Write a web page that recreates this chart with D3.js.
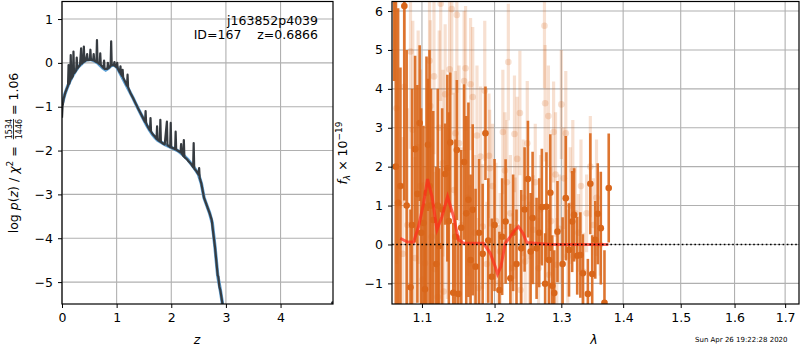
<!DOCTYPE html>
<html>
<head>
<meta charset="utf-8">
<script src="https://cdn.jsdelivr.net/npm/d3@7"></script>
<style>
  body { margin: 0; background: #fff; }
  svg { font-family: 'DejaVu Sans', sans-serif; }
</style>
</head>
<body>
<div id="chart"></div>
<script>
// p(z) panel data ---------------------------------------------------------------------------
const pzTicksX = [0, 1, 2, 3, 4];
const pzTicksY = [-5, -4, -3, -2, -1, 0, 1];
const pzZ = [0, 0.05, 0.1, 0.15, 0.2, 0.25, 0.3, 0.35, 0.4, 0.45, 0.5, 0.55, 0.6, 0.65, 0.7, 0.75,
  0.8, 0.85, 0.9, 0.95, 1.0, 1.05, 1.1, 1.15, 1.2, 1.25, 1.3, 1.35, 1.4, 1.45, 1.5, 1.55, 1.6, 1.65,
  1.7, 1.75, 1.8, 1.85, 1.9, 1.95, 2.0, 2.05, 2.1, 2.15, 2.2, 2.25, 2.3, 2.35, 2.4, 2.45, 2.5, 2.55,
  2.6, 2.65, 2.7, 2.75, 2.8, 2.85, 2.9, 2.95];
const pzSmooth = [-0.95, -0.72, -0.55, -0.40, -0.28, -0.18, -0.09, -0.03, 0.03, 0.07, 0.08, 0.07,
  0.04, 0.0, -0.06, -0.12, -0.16, -0.12, -0.06, -0.05, -0.09, -0.2, -0.32, -0.44, -0.56, -0.68, -0.8,
  -0.93, -1.06, -1.18, -1.30, -1.42, -1.53, -1.62, -1.70, -1.76, -1.80, -1.84, -1.87, -1.90, -1.93,
  -1.96, -1.99, -2.03, -2.08, -2.14, -2.2, -2.28, -2.36, -2.45, -2.55, -2.75, -3.08, -3.25, -3.42,
  -3.65, -4.2, -4.85, -5.2, -5.6];
const pzRaw = [[0.00, -1.25], [0.01, -1.0], [0.03, -0.82], [0.06, -0.68], [0.09, -0.58], [0.11, -0.52],
  [0.12, -0.05], [0.13, -0.48], [0.15, -0.40], [0.16, 0.18], [0.17, -0.36], [0.20, -0.30], [0.21, 0.26],
  [0.22, -0.24], [0.26, -0.17], [0.27, 0.12], [0.28, -0.13], [0.33, -0.05], [0.35, 0.33], [0.36, -0.02],
  [0.39, 0.02], [0.40, 0.37], [0.41, 0.03], [0.44, 0.06], [0.46, 0.2], [0.47, 0.06], [0.51, 0.07],
  [0.52, 0.30], [0.53, 0.07], [0.57, 0.06], [0.58, 0.2], [0.59, 0.05], [0.63, 0.02], [0.64, 0.52],
  [0.65, 0.01], [0.69, -0.03], [0.70, 0.22], [0.71, -0.05], [0.76, -0.12], [0.77, 0.05], [0.78, -0.14],
  [0.83, -0.14], [0.84, 0.0], [0.85, -0.12], [0.89, -0.07], [0.90, 0.49], [0.91, -0.05], [0.95, -0.05],
  [0.96, 0.02], [0.97, -0.07], [1.00, -0.10], [1.01, 0.0], [1.02, -0.13], [1.06, -0.22], [1.07, -0.08],
  [1.08, -0.26], [1.10, -0.30], [1.11, -0.16], [1.12, -0.34], [1.16, -0.44], [1.19, -0.52], [1.20, -0.27],
  [1.21, -0.56], [1.25, -0.68], [1.30, -0.8], [1.35, -0.93], [1.40, -1.06], [1.45, -1.18], [1.50, -1.30],
  [1.52, -1.35], [1.53, -1.10], [1.54, -1.38], [1.58, -1.48], [1.61, -1.54], [1.62, -1.26], [1.63, -1.57],
  [1.67, -1.64], [1.70, -1.68], [1.73, -1.73], [1.74, -1.45], [1.75, -1.75], [1.79, -1.79], [1.80, -1.30],
  [1.81, -1.80], [1.85, -1.84], [1.88, -1.86], [1.92, -1.34], [1.93, -1.88], [1.96, -1.90], [1.98, -1.92],
  [1.99, -1.37], [2.00, -1.93], [2.04, -1.95], [2.07, -1.97], [2.08, -1.57], [2.09, -1.98], [2.13, -2.01],
  [2.17, -2.04], [2.18, -1.85], [2.19, -2.06], [2.22, -2.12], [2.23, -1.76], [2.24, -2.15], [2.28, -2.19],
  [2.32, -2.25], [2.36, -2.30], [2.40, -2.38], [2.41, -1.83], [2.42, -2.41], [2.46, -2.47], [2.50, -2.55],
  [2.51, -2.40], [2.52, -2.62], [2.55, -2.75], [2.60, -3.08], [2.65, -3.25], [2.70, -3.42], [2.72, -3.5],
  [2.74, -3.58], [2.76, -3.8], [2.80, -4.2], [2.85, -4.85], [2.86, -4.87], [2.88, -5.1], [2.90, -5.2],
  [2.95, -5.6]];

// spectrum panel data -----------------------------------------------------------------------
const specTicksX = [1.1, 1.2, 1.3, 1.4, 1.5, 1.6, 1.7];
const specTicksY = [-1, 0, 1, 2, 3, 4, 5, 6];
const darkLam = [1.064, 1.069, 1.072, 1.077, 1.085, 1.091, 1.094, 1.097, 1.099, 1.102, 1.104, 1.106,
  1.108, 1.112, 1.115, 1.119, 1.123, 1.127, 1.131, 1.134, 1.138, 1.142, 1.147, 1.149, 1.153, 1.157,
  1.163, 1.169, 1.173, 1.178, 1.183, 1.187, 1.191, 1.196, 1.200, 1.207, 1.211, 1.216, 1.223, 1.227,
  1.232, 1.239, 1.244, 1.249, 1.253, 1.256, 1.262, 1.266, 1.270, 1.275, 1.277, 1.281, 1.283, 1.286,
  1.289, 1.294, 1.302, 1.307, 1.312, 1.317, 1.320, 1.325, 1.330, 1.334, 1.342, 1.346, 1.349, 1.354,
  1.358, 1.363, 1.369, 1.376,
  1.066, 1.080, 1.087, 1.110, 1.121, 1.136, 1.145, 1.160, 1.166];
const darkFlux = [7.2, 1.07, 1.5, 6.13, -1.1, 2.45, 1.3, 3.12, 0.3, 0.55, -1.15, 1.33, 2.56, 1.0, 0.63,
  -0.5, -0.04, 0.9, 1.81, 1.96, 2.62, -1.24, 2.43, -1.27, 0.43, 2.12, 1.15, 0.89, -0.57, 0.3, -0.24,
  2.86, 0.1, -0.83, 0.5, -1.17, 0.2, 0.59, -0.87, 0.3, -0.5, -0.1, 0.9, 1.68, -0.18, 0.68, -0.1, 0.3,
  0.96, -1.01, 0.97, -0.4, 1.33, -1.06, -1.25, 0.33, -0.5, 1.19, -0.14, 0.59, 0.76, -0.29, -0.27, -0.74,
  -1.27, 1.56, -0.76, 0.12, 0.79, 0.42, -1.5, 1.45,
  2.0, 1.0, 0.5, 1.5, 1.0, 0.6, 0.2, 0.8, -0.4];
const darkErr = [3.0, 5.0, 3.05, 5.0, 2.0, 2.4, 2.8, 2.0, 3.2, 2.5, 2.2, 3.5, 1.7, 3.0, 2.8, 2.5, 2.0,
  2.6, 1.3, 2.4, 1.8, 1.8, 1.8, 1.5, 2.0, 2.0, 2.5, 2.2, 2.0, 1.9, 1.8, 1.2, 1.6, 1.5, 1.7, 1.5, 1.5,
  1.6, 1.4, 1.5, 1.4, 1.5, 1.6, 1.5, 1.5, 1.7, 1.3, 1.4, 1.5, 1.3, 1.4, 1.3, 1.5, 1.3, 1.1, 1.3, 1.2,
  1.6, 1.2, 1.3, 1.2, 1.0, 1.1, 1.0, 0.9, 1.3, 1.0, 1.0, 1.3, 1.45, 1.35, 1.4,
  5.0, 4.0, 3.5, 3.5, 3.0, 2.8, 2.5, 2.5, 2.2];
const lightLam = [1.067, 1.075, 1.077, 1.085, 1.088, 1.091, 1.098, 1.104, 1.110, 1.111, 1.116, 1.117,
  1.121, 1.125, 1.128, 1.129, 1.131, 1.140, 1.143, 1.145, 1.147, 1.153, 1.157, 1.159, 1.165, 1.166,
  1.169, 1.177, 1.180, 1.183, 1.186, 1.192, 1.193, 1.208, 1.212, 1.215, 1.220, 1.223, 1.229, 1.230,
  1.237, 1.238, 1.245, 1.257, 1.265, 1.274, 1.275, 1.280, 1.281, 1.288, 1.293, 1.307, 1.314, 1.322,
  1.327, 1.335, 1.346, 1.356, 1.362,
  1.070, 1.081, 1.095, 1.101, 1.107, 1.113, 1.123, 1.134, 1.137, 1.150, 1.162, 1.172, 1.175, 1.189,
  1.197, 1.202, 1.205, 1.218, 1.226, 1.233, 1.242, 1.248, 1.251, 1.260, 1.268, 1.284, 1.291, 1.297,
  1.300, 1.304, 1.310, 1.318, 1.331, 1.340, 1.351];
const lightFlux = [3.5, -0.24, 4.05, 4.96, 2.95, -0.35, 1.5, -0.48, 4.72, 3.56, 4.32, -0.63, -1.35, 6.19,
  2.09, -1.21, 3.86, 6.05, 1.4, 2.86, 5.9, 0.5, 4.2, 4.53, -0.48, 4.12, 3.79, -1.12, 2.26, 0.46, 3.95,
  2.28, 1.96, -0.18, 2.89, 1.9, 4.69, 0.8, 2.84, 0.42, 3.38, -1.17, -0.44, 0.38, -0.61, 5.62, 3.63, 3.3,
  -0.78, 2.89, -0.52, 2.86, 1.0, 0.8, 0.3, -0.7, 2.0, 1.2, 0.0,
  1.0, 0.5, 2.5, -0.9, 1.0, 0.2, 3.0, 0.8, 4.5, 2.6, 1.2, 0.3, 2.8, -0.5, 1.5, 0.6, -1.0, 1.6, -0.6,
  2.2, 1.2, 2.6, -0.3, 1.6, 0.9, 0.6, 1.8, 0.4, 3.6, 1.7, -0.3, 1.9, 1.5, 0.8, 0.5];
const lightErr = [4.0, 3.0, 3.0, 2.5, 2.8, 2.6, 3.0, 2.5, 2.0, 2.2, 2.0, 2.5, 2.0, 2.5, 2.4, 2.2, 1.8, 2.2,
  2.5, 1.6, 2.0, 2.0, 1.8, 1.6, 2.0, 1.7, 1.8, 1.8, 1.8, 1.6, 1.8, 1.6, 1.5, 1.5, 1.6, 1.5, 1.5, 1.5, 1.5,
  1.3, 1.6, 1.3, 1.4, 1.4, 1.3, 1.6, 1.5, 1.3, 1.2, 1.3, 1.2, 1.6, 1.5, 1.2, 1.0, 1.0, 1.3, 1.5, 0.8,
  3.5, 3.0, 3.0, 2.5, 3.0, 2.5, 2.5, 2.2, 2.0, 2.0, 2.0, 2.0, 1.8, 1.6, 1.6, 1.5, 1.5, 1.6, 1.4, 1.6,
  1.5, 1.6, 1.4, 1.5, 1.4, 1.4, 1.6, 1.4, 1.4, 1.3, 1.2, 1.3, 1.2, 1.0, 1.2];
const modelLam = [1.0718, 1.0804, 1.0890, 1.0955, 1.1021, 1.1074, 1.1133, 1.1200, 1.1267, 1.1343, 1.1424,
  1.1493, 1.1562, 1.1658, 1.1842, 1.1938, 1.2010, 1.2043, 1.2092, 1.2154, 1.2230, 1.2301, 1.2349, 1.2415,
  1.2474, 1.2831, 1.3300, 1.3754];
const modelFlux = [0.16, 0.07, 0.06, 0.46, 1.06, 1.68, 1.23, 0.38, 0.72, 1.23, 0.72, 0.12, 0.03, 0.03,
  0.03, -0.22, -0.57, -0.76, -0.57, 0.03, 0.2, 0.38, 0.46, 0.29, 0.05, 0.0, 0.0, 0.0];

// SVG ---------------------------------------------------------------------------------------
const width = 800;
const height = 350;
const fontSize = 12.5;
const gridColor = '#b0b0b0';
const orange = '#d9661a';
const svg = d3.select('#chart').append('svg')
  .attr('width', width)
  .attr('height', height);

const boxL = { left: 62, right: 333, top: 1.5, bottom: 304 };
const boxR = { left: 392, right: 799, top: 1.5, bottom: 304 };

const xL = d3.scaleLinear().domain([0, 4.96]).range([boxL.left, boxL.right]);
const yL = d3.scaleLinear().domain([-5.5, 1.4]).range([boxL.bottom, boxL.top]);
const xR = d3.scaleLog().domain([1.0612, 1.7285]).range([boxR.left, boxR.right]);
const yR = d3.scaleLinear().domain([-1.53, 6.245]).range([boxR.bottom, boxR.top]);

const defs = svg.append('defs');
const clip = (id, b) => defs.append('clipPath').attr('id', id).append('rect')
  .attr('x', b.left).attr('y', b.top).attr('width', b.right - b.left).attr('height', b.bottom - b.top);
clip('clipL', boxL);
clip('clipR', boxR);

// grid + axes -------------------------------------------------------------------------------
const drawAxes = (b, x, y, tx, ty, fmtX, fmtY) => {
  const g = svg.append('g');
  g.selectAll('.gx').data(tx).enter().append('line')
    .attr('x1', d => x(d)).attr('x2', d => x(d))
    .attr('y1', b.top).attr('y2', b.bottom)
    .attr('stroke', gridColor).attr('stroke-width', 1.1);
  g.selectAll('.gy').data(ty).enter().append('line')
    .attr('x1', b.left).attr('x2', b.right)
    .attr('y1', d => y(d)).attr('y2', d => y(d))
    .attr('stroke', gridColor).attr('stroke-width', 1.1);
  const ax = svg.append('g')
    .attr('transform', 'translate(0,' + b.bottom + ')')
    .call(d3.axisBottom(x).tickValues(tx).tickFormat(fmtX).tickSize(4).tickPadding(5));
  const ay = svg.append('g')
    .attr('transform', 'translate(' + b.left + ',0)')
    .call(d3.axisLeft(y).tickValues(ty).tickFormat(fmtY).tickSize(4).tickPadding(5));
  [ax, ay].forEach(a => {
    a.select('.domain').remove();
    a.selectAll('text').attr('font-size', fontSize + 'px').attr('fill', '#000')
      .attr('font-family', 'DejaVu Sans');
    a.selectAll('line').attr('stroke', '#000').attr('stroke-width', 1);
  });
};
drawAxes(boxL, xL, yL, pzTicksX, pzTicksY, d3.format('d'), d3.format('d'));
drawAxes(boxR, xR, yR, specTicksX, specTicksY, d3.format('.1f'), d3.format('d'));

// p(z) curves --------------------------------------------------------------------------------
const gL = svg.append('g').attr('clip-path', 'url(#clipL)');
const smoothLine = d3.line().x((d, i) => xL(pzZ[i])).y(d => yL(d));
gL.append('path')
  .attr('d', smoothLine(pzSmooth))
  .attr('fill', 'none')
  .attr('stroke', '#5d9fd3')
  .attr('stroke-width', 3.4);
gL.append('path')
  .attr('d', d3.line().x(d => xL(d[0])).y(d => yL(d[1]))(pzRaw))
  .attr('fill', 'none')
  .attr('stroke', '#363b40')
  .attr('stroke-width', 2.2)
  .attr('stroke-linejoin', 'round');
gL.append('circle')
  .attr('cx', xL(4.95)).attr('cy', yL(-5.47)).attr('r', 1.5).attr('fill', '#363b40');

// annotation
svg.append('text')
  .attr('x', 318).attr('y', 24.5).attr('text-anchor', 'end')
  .attr('font-size', fontSize + 'px')
  .text('j163852p4039');
svg.append('text')
  .attr('x', 318).attr('y', 39).attr('text-anchor', 'end')
  .attr('font-size', fontSize + 'px')
  .attr('xml:space', 'preserve')
  .text('ID=167    z=0.6866');

// spectrum -----------------------------------------------------------------------------------
const gR = svg.append('g').attr('clip-path', 'url(#clipR)');
const lightData = lightLam.map((l, i) => ({ l: l, f: lightFlux[i], e: lightErr[i] }));
const darkData = darkLam.map((l, i) => ({ l: l, f: darkFlux[i], e: darkErr[i] }));

gR.selectAll('.lbar').data(lightData).enter().append('line')
  .attr('x1', d => xR(d.l)).attr('x2', d => xR(d.l))
  .attr('y1', d => yR(d.f - d.e)).attr('y2', d => yR(d.f + d.e))
  .attr('stroke', orange).attr('stroke-opacity', 0.2).attr('stroke-width', 3.2);
gR.selectAll('.ldot').data(lightData).enter().append('circle')
  .attr('cx', d => xR(d.l)).attr('cy', d => yR(d.f)).attr('r', 3.3)
  .attr('fill', orange).attr('fill-opacity', 0.2);

gR.selectAll('.dbar').data(darkData).enter().append('line')
  .attr('x1', d => xR(d.l)).attr('x2', d => xR(d.l))
  .attr('y1', d => yR(d.f - d.e)).attr('y2', d => yR(d.f + d.e))
  .attr('stroke', orange).attr('stroke-opacity', 0.9).attr('stroke-width', 2.6);
gR.selectAll('.ddot').data(darkData).enter().append('circle')
  .attr('cx', d => xR(d.l)).attr('cy', d => yR(d.f)).attr('r', 3.3)
  .attr('fill', orange);

gR.append('path')
  .attr('d', d3.line().x((d, i) => xR(modelLam[i])).y(d => yR(d))(modelFlux))
  .attr('fill', 'none')
  .attr('stroke', '#ff2a1a')
  .attr('stroke-opacity', 0.7)
  .attr('stroke-width', 3);

gR.append('line')
  .attr('x1', boxR.left).attr('x2', boxR.right)
  .attr('y1', yR(0)).attr('y2', yR(0))
  .attr('stroke', '#000').attr('stroke-width', 1.6)
  .attr('stroke-dasharray', '1.6,2.6');

// frames -------------------------------------------------------------------------------------
[boxL, boxR].forEach(b => {
  svg.append('rect')
    .attr('x', b.left).attr('y', b.top)
    .attr('width', b.right - b.left).attr('height', b.bottom - b.top)
    .attr('fill', 'none').attr('stroke', '#000').attr('stroke-width', 1.2);
});

// axis labels --------------------------------------------------------------------------------
svg.append('text')
  .attr('x', xL(2.47)).attr('y', 344).attr('text-anchor', 'middle')
  .attr('font-size', fontSize + 'px').attr('font-style', 'italic')
  .text('z');
svg.append('text')
  .attr('x', 594).attr('y', 344).attr('text-anchor', 'middle')
  .attr('font-size', fontSize + 'px').attr('font-style', 'italic')
  .text('λ');

// left y label with fraction
const yLab = svg.append('g').attr('transform', 'translate(13,153) rotate(-90)');
const t1 = yLab.append('text').attr('y', 4.5).attr('font-size', fontSize + 'px');
t1.append('tspan').text('log ');
t1.append('tspan').attr('font-style', 'italic').text('p');
t1.append('tspan').text('(');
t1.append('tspan').attr('font-style', 'italic').text('z');
t1.append('tspan').text(') / ');
t1.append('tspan').attr('font-style', 'italic').text('χ');
t1.append('tspan').attr('font-size', '9px').attr('dy', -5).text('2');
t1.append('tspan').attr('dy', 5).attr('xml:space', 'preserve').text(' = ');
const w1 = t1.node().getComputedTextLength() + 3;
const frac = yLab.append('g').attr('transform', 'translate(' + w1 + ',0)');
const num = frac.append('text').attr('y', -1.5).attr('font-size', '8px').text('1534');
const fw = num.node().getComputedTextLength();
frac.append('text').attr('y', 8.5).attr('font-size', '8px').text('1446');
frac.append('line').attr('x1', 0).attr('x2', fw).attr('y1', 0.5).attr('y2', 0.5)
  .attr('stroke', '#000').attr('stroke-width', 0.8);
const t3 = yLab.append('text').attr('x', w1 + fw).attr('y', 4.5).attr('font-size', fontSize + 'px')
  .attr('xml:space', 'preserve').text(' = 1.06');
const total = w1 + fw + t3.node().getComputedTextLength();
yLab.attr('transform', 'translate(13,153) rotate(-90) translate(' + (-total / 2) + ',0)');

// right y label
const yLabR = svg.append('text')
  .attr('transform', 'translate(347,153) rotate(-90)')
  .attr('text-anchor', 'middle')
  .attr('font-size', fontSize + 'px');
yLabR.append('tspan').attr('font-style', 'italic').text('f');
yLabR.append('tspan').attr('font-size', '9px').attr('font-style', 'italic').attr('dy', 3).text('λ');
yLabR.append('tspan').attr('dy', -3).attr('xml:space', 'preserve').text(' × 10');
yLabR.append('tspan').attr('font-size', '9px').attr('dy', -5).text('−19');

// timestamp
svg.append('text')
  .attr('x', 787.5).attr('y', 342).attr('text-anchor', 'end')
  .attr('font-size', '7px')
  .text('Sun Apr 26 19:22:28 2020');
</script>
</body>
</html>
